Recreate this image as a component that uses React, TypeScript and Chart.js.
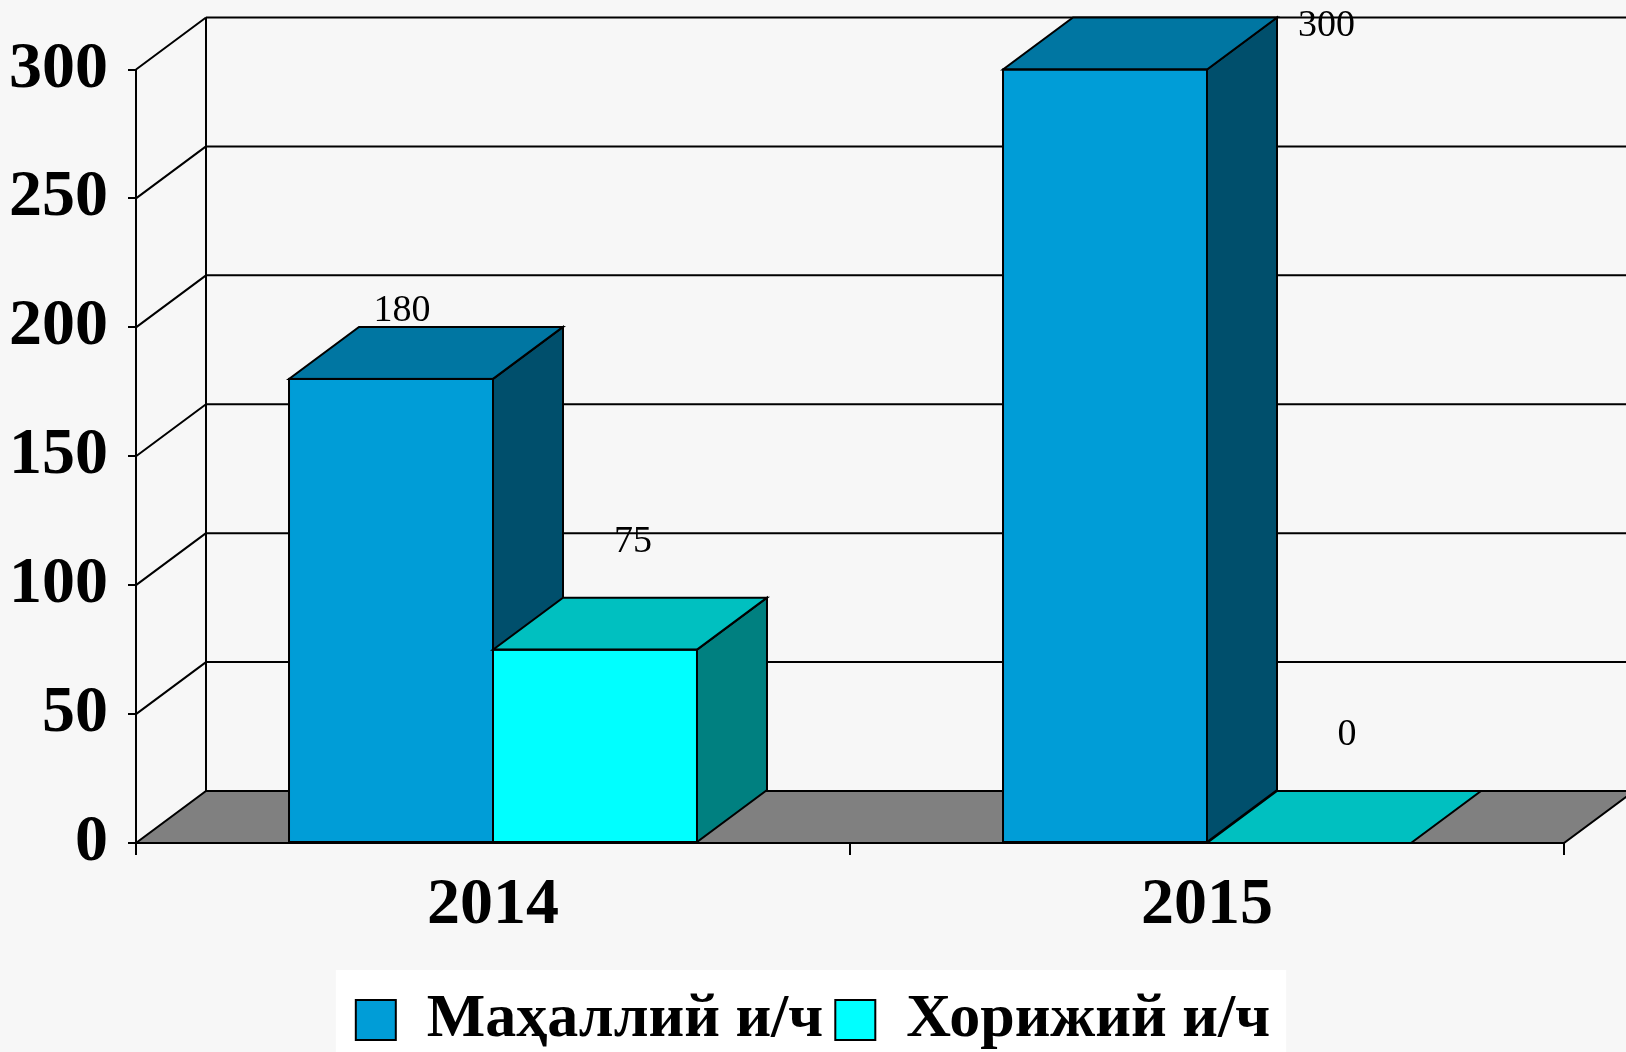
import React, { useEffect, useRef } from 'react';
import { Chart, registerables } from 'chart.js';

Chart.register(...registerables);

// ---- data ----
const categories = ['2014', '2015'];
const seriesNames = ['Маҳаллий и/ч', 'Хорижий и/ч'];
const localValues = [180, 300];
const foreignValues = [75, 0];
const yMin = 0;
const yMax = 300;
const yStep = 50;

// ---- styling ----
const FRONT = ['#009DD7', '#00FFFF'];
const TOP = ['#0076A2', '#00C0C0'];
const SIDE = ['#004F6C', '#008080'];
const FLOOR = '#808080';
const BG = '#f7f7f7';
const DX = 70;
const DY = -52;
const LABEL_OFFSETS = [
  { dx: 11, dy: -68 },
  { dx: 38, dy: -108 },
];
const W = 1626;
const H = 1052;

function drawBox(ctx: any, el: any, i: number) {
  const p = el.getProps(['x', 'y', 'base', 'width'], true);
  const l = p.x - p.width / 2;
  const r = p.x + p.width / 2;
  const t = Math.min(p.y, p.base);
  const b = Math.max(p.y, p.base);
  if (b - t > 0.5) {
    ctx.fillStyle = FRONT[i];
    ctx.fillRect(l, t, r - l, b - t);
    ctx.beginPath();
    ctx.moveTo(r, t);
    ctx.lineTo(r + DX, t + DY);
    ctx.lineTo(r + DX, b + DY);
    ctx.lineTo(r, b);
    ctx.closePath();
    ctx.fillStyle = SIDE[i];
    ctx.fill();
    ctx.stroke();
  }
  ctx.beginPath();
  ctx.moveTo(l, t);
  ctx.lineTo(r, t);
  ctx.lineTo(r + DX, t + DY);
  ctx.lineTo(l + DX, t + DY);
  ctx.closePath();
  ctx.fillStyle = TOP[i];
  ctx.fill();
  ctx.stroke();
  if (b - t > 0.5) {
    ctx.strokeRect(l, t, r - l, b - t);
  }
}

const threeD = {
  id: 'threeD',
  afterLayout(chart: any) {
    const lg = chart.legend;
    if (!lg) return;
    const shift = chart.width / 2 - (lg.left + lg.right) / 2;
    lg.left += shift;
    lg.right += shift;
    if (lg.legendHitBoxes) {
      for (const hb of lg.legendHitBoxes) hb.left += shift;
    }
  },
  beforeDraw(chart: any) {
    const ctx = chart.ctx;
    ctx.save();
    ctx.fillStyle = BG;
    ctx.fillRect(0, 0, chart.width, chart.height);
    const lg = chart.legend;
    if (lg && lg.legendHitBoxes && lg.legendHitBoxes.length) {
      const hb = lg.legendHitBoxes;
      const l = hb[0].left - 20;
      const last = hb[hb.length - 1];
      const r = last.left + last.width + 16;
      ctx.fillStyle = '#ffffff';
      ctx.fillRect(l, 970, r - l, chart.height - 970);
    }
    ctx.restore();
  },
  beforeDatasetsDraw(chart: any) {
    const ctx = chart.ctx;
    const { left, right, bottom } = chart.chartArea;
    const ys = chart.scales.y;
    ctx.save();
    ctx.lineWidth = 2;
    ctx.strokeStyle = '#000';
    ctx.beginPath();
    ctx.moveTo(left, bottom);
    ctx.lineTo(right, bottom);
    ctx.lineTo(right + DX, bottom + DY);
    ctx.lineTo(left + DX, bottom + DY);
    ctx.closePath();
    ctx.fillStyle = FLOOR;
    ctx.fill();
    ctx.stroke();
    ctx.beginPath();
    for (const t of ys.ticks) {
      if (t.value === yMin) continue;
      const y = ys.getPixelForValue(t.value);
      ctx.moveTo(left, y);
      ctx.lineTo(left + DX, y + DY);
      ctx.moveTo(left + DX, y + DY);
      ctx.lineTo(chart.width + 10, y + DY);
    }
    ctx.moveTo(left + DX, ys.getPixelForValue(yMax) + DY);
    ctx.lineTo(left + DX, bottom + DY);
    ctx.stroke();
    ctx.restore();
  },
  afterDatasetsDraw(chart: any) {
    const ctx = chart.ctx;
    ctx.save();
    ctx.lineWidth = 2;
    ctx.strokeStyle = '#000';
    chart.data.datasets.forEach((_ds: any, i: number) => {
      const meta = chart.getDatasetMeta(i);
      for (const el of meta.data) drawBox(ctx, el, i);
    });
    ctx.restore();
  },
  afterDraw(chart: any) {
    const ctx = chart.ctx;
    ctx.save();
    ctx.font = '38px "Liberation Serif"';
    ctx.fillStyle = '#000';
    ctx.textAlign = 'center';
    ctx.textBaseline = 'middle';
    chart.data.datasets.forEach((ds: any, i: number) => {
      const meta = chart.getDatasetMeta(i);
      meta.data.forEach((el: any, j: number) => {
        const p = el.getProps(['x', 'y', 'width'], true);
        const txt = String(ds.data[j]);
        const off = LABEL_OFFSETS[i];
        let x = p.x + off.dx;
        let y = p.y + off.dy;
        if (y - 19 < 4) {
          const tw = ctx.measureText(txt).width;
          x = p.x + p.width / 2 + DX + 21 + tw / 2;
          y = p.y + DY + 8.5;
        }
        ctx.fillText(txt, x, y);
      });
    });
    ctx.restore();
  },
};

export default function App() {
  const ref = useRef<HTMLCanvasElement>(null);
  useEffect(() => {
    document.body.style.margin = '0';
    document.body.style.background = BG;
    Chart.defaults.font.family = '"Liberation Serif"';
    const chart = new Chart(ref.current!, {
      type: 'bar',
      data: {
        labels: categories,
        datasets: [
          {
            label: seriesNames[0],
            data: localValues,
            backgroundColor: FRONT[0],
            borderWidth: 0,
            categoryPercentage: 0.5714,
            barPercentage: 1,
          },
          {
            label: seriesNames[1],
            data: foreignValues,
            backgroundColor: FRONT[1],
            borderWidth: 0,
            categoryPercentage: 0.5714,
            barPercentage: 1,
          },
        ],
      },
      options: {
        responsive: false,
        animation: false,
        layout: { padding: { top: 69.5, right: 62, left: 0, bottom: -9 } },
        scales: {
          x: {
            type: 'category',
            offset: true,
            grid: {
              offset: true,
              drawOnChartArea: false,
              drawTicks: true,
              tickLength: 12,
              color: '#000',
              lineWidth: 2,
            },
            border: { display: true, color: '#000', width: 2 },
            ticks: {
              color: '#000',
              padding: 11,
              font: { family: '"Liberation Serif"', weight: 'bold', size: 66 },
            },
            afterFit: (s: any) => {
              s.height = 134;
            },
          },
          y: {
            type: 'linear',
            min: yMin,
            max: yMax,
            grid: {
              drawOnChartArea: false,
              drawTicks: true,
              tickLength: 8,
              color: '#000',
              lineWidth: 2,
            },
            border: { display: true, color: '#000', width: 2 },
            ticks: {
              stepSize: yStep,
              color: '#000',
              padding: 20,
              font: { family: '"Liberation Serif"', weight: 'bold', size: 66 },
            },
            afterFit: (s: any) => {
              s.width = 136;
            },
          },
        },
        plugins: {
          tooltip: { enabled: false },
          legend: {
            position: 'bottom',
            labels: {
              color: '#000',
              boxWidth: 40,
              boxHeight: 40,
              padding: 12,
              font: { family: '"Liberation Serif"', weight: 'bold', size: 62 },
              generateLabels: (c: any) =>
                Chart.defaults.plugins.legend.labels
                  .generateLabels(c)
                  .map((l: any) => ({ ...l, lineWidth: 2, strokeStyle: '#000' })),
            },
          },
        },
      },
      plugins: [threeD],
    });
    return () => chart.destroy();
  }, []);
  return (
    <div style={{ position: 'fixed', left: 0, top: 0, width: W, height: H, background: BG }}>
      <canvas ref={ref} width={W} height={H} style={{ display: 'block' }} />
    </div>
  );
}
